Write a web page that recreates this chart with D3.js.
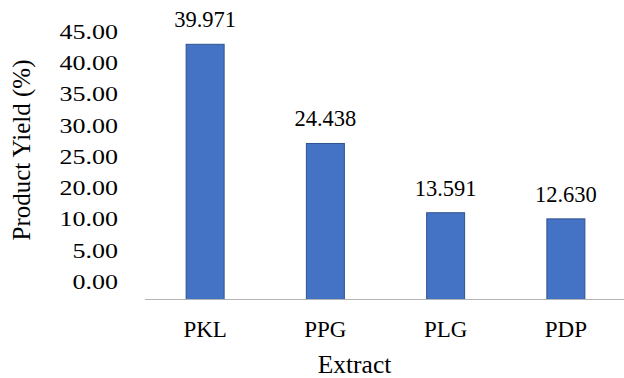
<!DOCTYPE html>
<html>
<head>
<meta charset="utf-8">
<script src="https://cdn.jsdelivr.net/npm/d3@7"></script>
</head>
<body style="margin:0">
<svg id="chart" width="624" height="378"></svg>
<script>
// Extract names and product yields (%)
const extracts = ["PKL", "PPG", "PLG", "PDP"];
const yields = [39.971, 24.438, 13.591, 12.630];
// Value-axis labels as printed on the chart
const tickLabels = ["45.00", "40.00", "35.00", "30.00", "25.00", "20.00", "10.00", "5.00", "0.00"];

const FONT = "Times New Roman";

const svg = d3.select("#chart");
const baseY = 299.5;

const x = d3.scaleBand()
  .domain(extracts)
  .range([145, 626])
  .paddingInner(0.684)
  .paddingOuter(0.342);

const y = d3.scaleLinear()
  .domain([0, 45])
  .range([baseY, 12.2]);

// Axis label column, evenly spaced down the left side
const tickPos = d3.scalePoint()
  .domain(tickLabels)
  .range([31.8, 282]);

const yAxis = svg.append("g")
  .attr("transform", "translate(118,0) scale(1.3,1)")
  .call(d3.axisLeft(tickPos).tickSize(0).tickPadding(0));
yAxis.select(".domain").remove();
yAxis.selectAll("text")
  .attr("font-family", FONT)
  .attr("font-size", 20)
  .attr("fill", "#000");

// Bars
svg.append("g").selectAll("rect")
  .data(extracts)
  .join("rect")
  .attr("x", d => x(d))
  .attr("width", x.bandwidth())
  .attr("y", (d, i) => y(yields[i]))
  .attr("height", (d, i) => baseY - y(yields[i]))
  .attr("fill", "#4472C4")
  .attr("stroke", "#2F528F")
  .attr("stroke-width", 1);

// Baseline
svg.append("line")
  .attr("x1", 145).attr("x2", 624)
  .attr("y1", baseY).attr("y2", baseY)
  .attr("stroke", "#b4b4b4")
  .attr("stroke-width", 1.2);

// Value labels
svg.append("g").selectAll("text")
  .data(extracts)
  .join("text")
  .attr("x", d => x(d) + x.bandwidth() / 2)
  .attr("y", (d, i) => y(yields[i]) - 17)
  .attr("text-anchor", "middle")
  .attr("font-family", FONT)
  .attr("font-size", 22.5)
  .attr("fill", "#000")
  .text((d, i) => yields[i].toFixed(3));

// Category labels
svg.append("g").selectAll("text")
  .data(extracts)
  .join("text")
  .attr("x", d => x(d) + x.bandwidth() / 2)
  .attr("y", 336.5)
  .attr("text-anchor", "middle")
  .attr("font-family", FONT)
  .attr("font-size", 23)
  .attr("fill", "#000")
  .text(d => d);

// Axis titles
svg.append("text")
  .attr("x", 354.5)
  .attr("y", 373)
  .attr("text-anchor", "middle")
  .attr("font-family", FONT)
  .attr("font-size", 25.5)
  .attr("fill", "#000")
  .text("Extract");

svg.append("text")
  .attr("transform", "translate(30,150) rotate(-90)")
  .attr("text-anchor", "middle")
  .attr("font-family", FONT)
  .attr("font-size", 25)
  .attr("fill", "#000")
  .text("Product Yield (%)");
</script>
</body>
</html>
